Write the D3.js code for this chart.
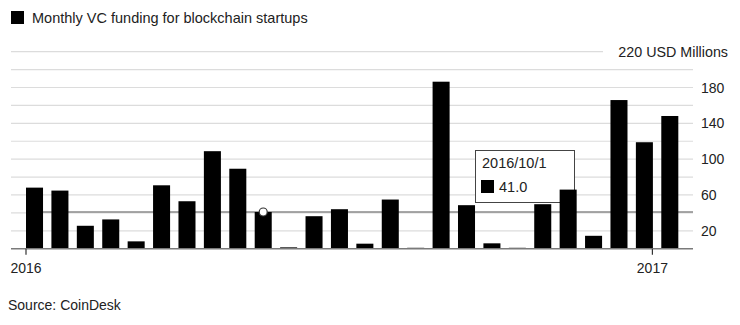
<!DOCTYPE html>
<html>
<head>
<meta charset="utf-8">
<script src="https://cdn.jsdelivr.net/npm/d3@7"></script>
<style>
  html, body { margin: 0; padding: 0; background: #fff; }
  svg { display: block; font-family: "Liberation Sans", Arial, Helvetica, sans-serif; }
</style>
</head>
<body>
<svg id="chart" width="740" height="325"></svg>
<script>
// Monthly VC funding for blockchain startups (USD millions), source: CoinDesk
const months = [
  "2016/1/1", "2016/2/1", "2016/3/1", "2016/4/1", "2016/5/1", "2016/6/1",
  "2016/7/1", "2016/8/1", "2016/9/1", "2016/10/1", "2016/11/1", "2016/12/1",
  "2017/1/1", "2017/2/1", "2017/3/1", "2017/4/1", "2017/5/1", "2017/6/1",
  "2017/7/1", "2017/8/1", "2017/9/1", "2017/10/1", "2017/11/1", "2017/12/1",
  "2018/1/1", "2018/2/1"
];
const funding = [
  68.2, 64.9, 25.6, 32.7, 8.2, 70.8, 53.0, 108.9, 89.3, 41.0, 1.5, 36.3, 44.1,
  5.6, 54.9, 1.0, 186.5, 48.6, 6.0, 1.0, 49.7, 66.0, 14.4, 166.0, 118.9, 148.2
];
const gridValues = [20, 40, 60, 80, 100, 120, 140, 160, 180, 200, 220];
const yTickLabels = [180, 140, 100, 60, 20];
const yearLabels = ["2016", "2017"];
const yearTickAt = [0, 24.65];          // position along the month axis
const seriesName = "Monthly VC funding for blockchain startups";
const unitLabel = "220 USD Millions";
const sourceText = "Source: CoinDesk";
const hoverIndex = 9;                   // highlighted month shown in the tooltip

const svg = d3.select("#chart");
const plotLeft = 11, plotRight = 693;

const x = d3.scaleLinear().domain([0, months.length]).range([26, 686.7]);
const y = d3.scaleLinear().domain([0, 220]).range([248.7, 51.7]);
const step = x(1) - x(0);
const barW = step * 0.67;

// legend / title
svg.append("rect").attr("x", 11).attr("y", 11).attr("width", 13).attr("height", 13).attr("fill", "#000");
svg.append("text").attr("x", 32).attr("y", 23).attr("font-size", 14.5).attr("fill", "#222").text(seriesName);

// gridlines
svg.append("g").selectAll("line").data(gridValues).join("line")
  .attr("x1", plotLeft)
  .attr("x2", d => d === 220 ? 603 : plotRight)
  .attr("y1", d => y(d)).attr("y2", d => y(d))
  .attr("stroke", "#dcdcdc").attr("stroke-width", 1.2);

// unit label on the top gridline
svg.append("text").attr("x", 728).attr("y", y(220) + 5).attr("text-anchor", "end")
  .attr("font-size", 14.3).attr("fill", "#222").text(unitLabel);

// right-hand value axis labels
svg.append("g").selectAll("text").data(yTickLabels).join("text")
  .attr("x", 701).attr("y", d => y(d) + 5)
  .attr("font-size", 14).attr("fill", "#222").text(d => d);

// crosshair at the highlighted value
svg.append("line")
  .attr("x1", x(0)).attr("x2", plotRight)
  .attr("y1", y(funding[hoverIndex])).attr("y2", y(funding[hoverIndex]))
  .attr("stroke", "#8a8a8a").attr("stroke-width", 1.5);

// tooltip box (bars are drawn over it)
const tip = svg.append("g").attr("transform", "translate(475,150)");
tip.append("rect").attr("x", 0.5).attr("y", 0.5).attr("width", 99).attr("height", 52)
  .attr("fill", "#fff").attr("stroke", "#444").attr("stroke-width", 1);
tip.append("text").attr("x", 7).attr("y", 18).attr("font-size", 14.5).attr("fill", "#222")
  .text(months[hoverIndex]);
tip.append("rect").attr("x", 6).attr("y", 30).attr("width", 13).attr("height", 13).attr("fill", "#000");
tip.append("text").attr("x", 24).attr("y", 42).attr("font-size", 14.5).attr("fill", "#222")
  .text(d3.format(".1f")(funding[hoverIndex]));

// bars
svg.append("g").selectAll("rect").data(funding).join("rect")
  .attr("x", (d, i) => x(i))
  .attr("width", barW)
  .attr("y", d => y(d))
  .attr("height", d => y(0) - y(d))
  .attr("fill", "#000");

// baseline
svg.append("line").attr("x1", plotLeft).attr("x2", plotRight)
  .attr("y1", y(0)).attr("y2", y(0))
  .attr("stroke", "#7a7a7a").attr("stroke-width", 1.5);

// year ticks
const yt = svg.append("g").selectAll("g").data(yearLabels).join("g")
  .attr("transform", (d, i) => `translate(${x(yearTickAt[i])},0)`);
yt.append("line").attr("y1", y(0)).attr("y2", y(0) + 6).attr("stroke", "#333").attr("stroke-width", 1.2);
yt.append("text").attr("y", 273).attr("text-anchor", "middle")
  .attr("font-size", 14).attr("fill", "#222").text(d => d);

// highlight marker on the hovered bar
svg.append("circle")
  .attr("cx", x(hoverIndex) + barW / 2).attr("cy", y(funding[hoverIndex]))
  .attr("r", 4).attr("fill", "#fff").attr("stroke", "#333").attr("stroke-width", 1.2);

// source note
svg.append("text").attr("x", 8).attr("y", 310).attr("font-size", 14).attr("fill", "#222").text(sourceText);
</script>
</body>
</html>
